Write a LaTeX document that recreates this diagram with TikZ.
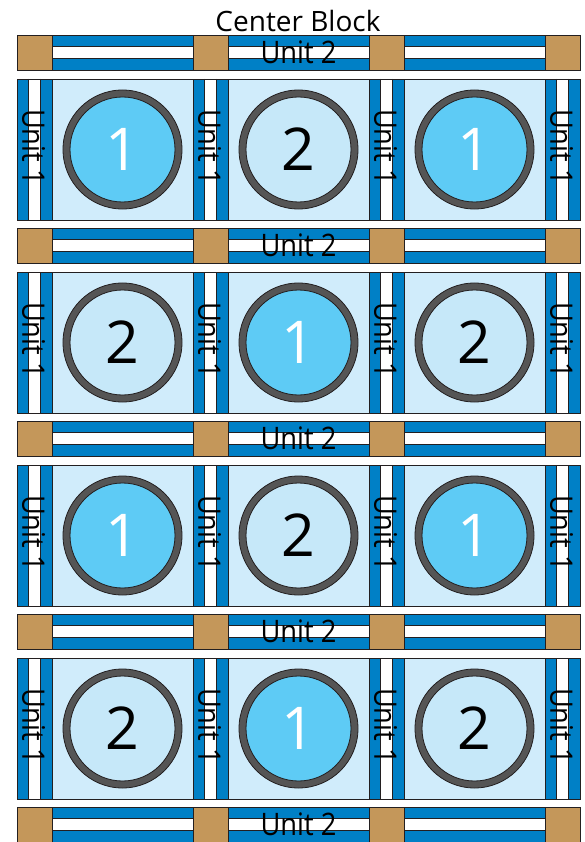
\documentclass[tikz,border=0pt]{standalone}
\usepackage{fontspec}
\setmainfont{Open Sans}
\definecolor{dblue}{HTML}{0080C6}
\definecolor{cstone}{HTML}{C4975A}
\definecolor{bgblue}{HTML}{D0ECFB}
\definecolor{cone}{HTML}{5ECBF5}
\definecolor{ctwo}{HTML}{C6E8F9}
\definecolor{ringgrey}{HTML}{555555}
\definecolor{edgec}{HTML}{231F20}
\tikzset{
  edgeline/.style={draw=edgec, line width=0.8pt},
  unitlabel/.style={inner sep=0pt, font=\fontsize{31}{32}\selectfont, xscale=0.88},
  titlelabel/.style={inner sep=0pt, font=\fontsize{28}{30}\selectfont},
  numlabel/.style={inner sep=0pt, font=\fontsize{59}{60}\selectfont},
}
\begin{document}
\begin{tikzpicture}[x=1pt,y=-1pt]
\useasboundingbox (0,0) rectangle (584,842);
\fill[white] (0,0) rectangle (584,842);
\node[titlelabel] (title) at (298,21) {Center Block};
% sashing rows
\foreach \r in {0,...,4}{
  \pgfmathsetmacro{\t}{35+193*\r}
  \foreach \x in {52,228,404}{
    \fill[dblue] (\x,\t) rectangle ++(141,35);
    \fill[white] (\x,\t+11.67) rectangle ++(141,11.67);
    \draw[edgeline] (\x,\t+11.67) -- ++(141,0) (\x,\t+23.33) -- ++(141,0);
    \draw[edgeline] (\x,\t) rectangle ++(141,35);
  }
  \foreach \x in {17,193,369,545}{
    \draw[edgeline, fill=cstone] (\x,\t) rectangle ++(35,35);
  }
  \node[unitlabel] (utwo\r) at (298.5,\t+17.5) {Unit 2};
}
% block rows
\foreach \r in {0,...,3}{
  \pgfmathsetmacro{\t}{79+193*\r}
  \draw[edgeline, fill=bgblue] (17,\t) rectangle ++(563,141);
  \foreach \x in {17,193,369,545}{
    \fill[dblue] (\x,\t) rectangle ++(35,141);
    \fill[white] (\x+11.67,\t) rectangle ++(11.67,141);
    \draw[edgeline] (\x+11.67,\t) -- ++(0,141) (\x+23.33,\t) -- ++(0,141);
    \draw[edgeline] (\x,\t) rectangle ++(35,141);
    \node[rotate=-90, unitlabel] (uone\r\x) at (\x+16.5,\t+68) {Unit 1};
  }
  \foreach \c/\cx in {0/122.5,1/298.5,2/474.5}{
    \pgfmathtruncatemacro{\k}{mod(\r+\c,2)}
    \ifnum\k=0
      \fill[cone] (\cx,\t+70.5) circle (56);
      \node[numlabel, text=white] (num\r\c) at (\cx,\t+70.5) {1};
    \else
      \fill[ctwo] (\cx,\t+70.5) circle (56);
      \node[numlabel, text=black] (num\r\c) at (\cx,\t+70.5) {2};
    \fi
    \draw[ringgrey, line width=7pt] (\cx,\t+70.5) circle (56);
    \draw[edgeline] (\cx,\t+70.5) circle (59.5);
    \draw[edgeline] (\cx,\t+70.5) circle (52.5);
  }
}
\end{tikzpicture}
\end{document}
